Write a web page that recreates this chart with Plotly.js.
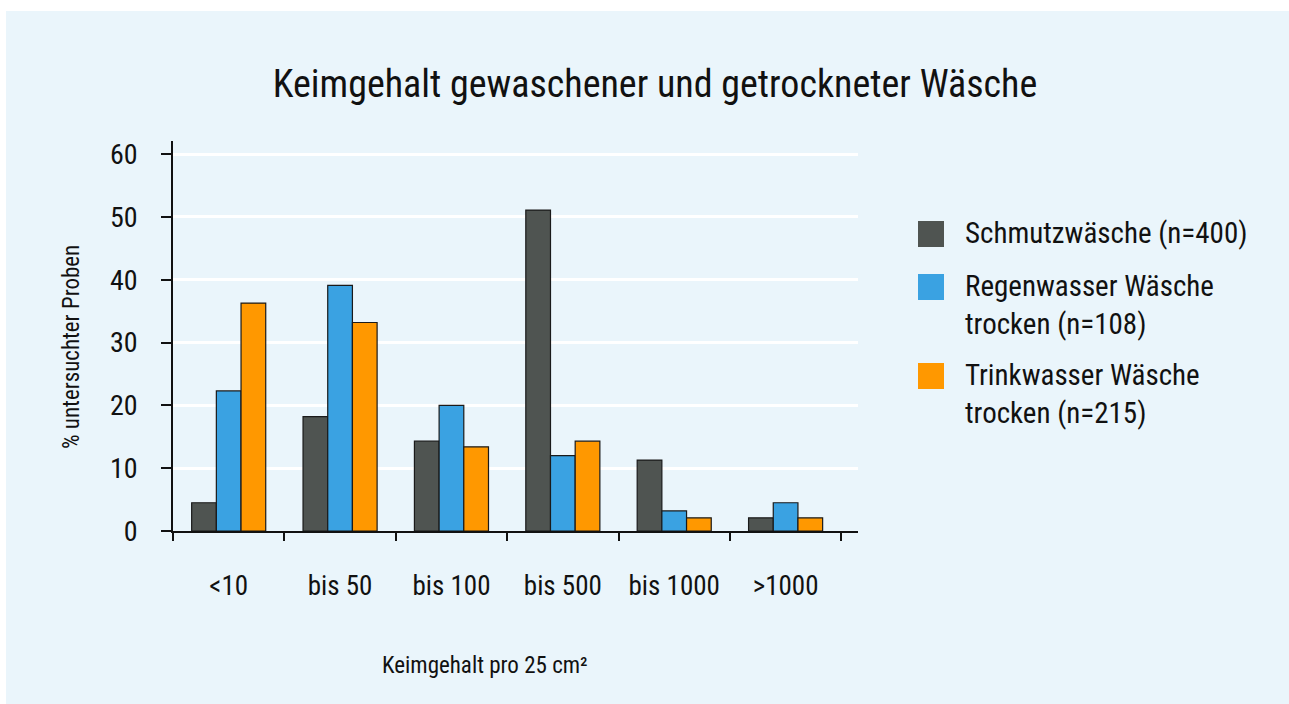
<!DOCTYPE html>
<html>
<head>
<meta charset="utf-8">
<script src="https://cdn.plot.ly/plotly-3.0.1.min.js"></script>
<style>
  html, body { margin: 0; padding: 0; background: #ffffff; }
  #frame { position: absolute; left: 6px; top: 11px; width: 1283px; height: 693px; background: #EAF5FB; }
  #chart { width: 1283px; height: 693px; }
</style>
</head>
<body>
<div id="frame"><div id="chart"></div></div>
<script>
// ---- data ----
const categories = ["<10", "bis 50", "bis 100", "bis 500", "bis 1000", ">1000"];
const seriesNames = ["Schmutzwäsche (n=400)", "Regenwasser Wäsche<br>trocken (n=108)", "Trinkwasser Wäsche<br>trocken (n=215)"];
const schmutzwaesche = [4.5, 18.2, 14.3, 51.1, 11.3, 2.1];
const regenwasser = [22.3, 39.1, 20.0, 12.0, 3.2, 4.5];
const trinkwasser = [36.3, 33.2, 13.4, 14.3, 2.1, 2.1];
const yTicks = [0, 10, 20, 30, 40, 50, 60];
const titleText = "Keimgehalt gewaschener und getrockneter Wäsche";
const xTitleText = "Keimgehalt pro 25 cm²";
const yTitleText = "% untersuchter Proben";

// ---- style ----
const colors = ["#4F5451", "#3AA2E2", "#FF9800"];
const FONT = "'Roboto Condensed', Roboto, sans-serif";
const W = 1283, H = 693;
const M = { l: 167, r: 431, t: 130, b: 173 };
const PW = W - M.l - M.r, PH = H - M.t - M.b;
const px = x => (x - M.l) / PW;           // container pixel -> paper x
const py = y => (H - M.b - y) / PH;       // container pixel -> paper y

const values = [schmutzwaesche, regenwasser, trinkwasser];
const traces = values.map((v, i) => ({
  type: "bar",
  x: categories,
  y: v,
  name: seriesNames[i],
  marker: { color: colors[i], line: { color: "#1a1a1a", width: 1.2 } },
  hoverinfo: "x+y+name"
}));

const shapes = [];
const annotations = [];
// custom legend (large square keys)
const legendRows = [223, 276, 365];
seriesNames.forEach((n, i) => {
  const cy = legendRows[i];
  shapes.push({
    type: "rect", xref: "paper", yref: "paper",
    x0: px(912), x1: px(938), y0: py(cy - 13), y1: py(cy + 13),
    fillcolor: colors[i], line: { width: 0 }
  });
  annotations.push({
    xref: "paper", yref: "paper", x: px(957), y: py(cy - 20),
    xanchor: "left", yanchor: "top", align: "left", showarrow: false,
    text: n, font: { family: FONT, size: 29, color: "#111" }
  });
});
annotations.push({
  xref: "paper", yref: "paper", x: px(479), y: py(654),
  xanchor: "center", yanchor: "middle", showarrow: false,
  text: xTitleText, font: { family: FONT, size: 23, color: "#111" }
});
annotations.push({
  xref: "paper", yref: "paper", x: px(65), y: py(336),
  xanchor: "center", yanchor: "middle", showarrow: false, textangle: -90,
  text: yTitleText, font: { family: FONT, size: 23, color: "#111" }
});

const layout = {
  width: W, height: H,
  margin: M,
  paper_bgcolor: "rgba(0,0,0,0)",
  plot_bgcolor: "rgba(0,0,0,0)",
  showlegend: false,
  barmode: "group",
  bargap: 0.335,
  bargroupgap: 0,
  font: { family: FONT, color: "#111" },
  title: {
    text: titleText,
    font: { family: FONT, size: 38, color: "#111" },
    x: 649 / W, xanchor: "center",
    y: 1 - 73 / H, yanchor: "middle", yref: "container"
  },
  xaxis: {
    type: "category",
    range: [-0.5, 5.65],
    tickson: "boundaries",
    tickangle: 0,
    ticks: "outside", ticklen: 8, tickwidth: 1.5, tickcolor: "#111",
    showline: true, linecolor: "#111", linewidth: 1.5,
    showgrid: false, zeroline: false,
    tickfont: { family: FONT, size: 27, color: "#111" },
    ticklabelstandoff: 30
  },
  yaxis: {
    range: [0, 62.1],
    tickvals: yTicks,
    ticks: "outside", ticklen: 10, tickwidth: 1.5, tickcolor: "#111",
    showline: true, linecolor: "#111", linewidth: 1.5,
    showgrid: true, gridcolor: "#ffffff", gridwidth: 2.5,
    zeroline: false,
    tickfont: { family: FONT, size: 28, color: "#111" },
    ticklabelstandoff: 18
  },
  shapes: shapes,
  annotations: annotations
};

Plotly.newPlot("chart", traces, layout, { displayModeBar: false });
</script>
</body>
</html>
